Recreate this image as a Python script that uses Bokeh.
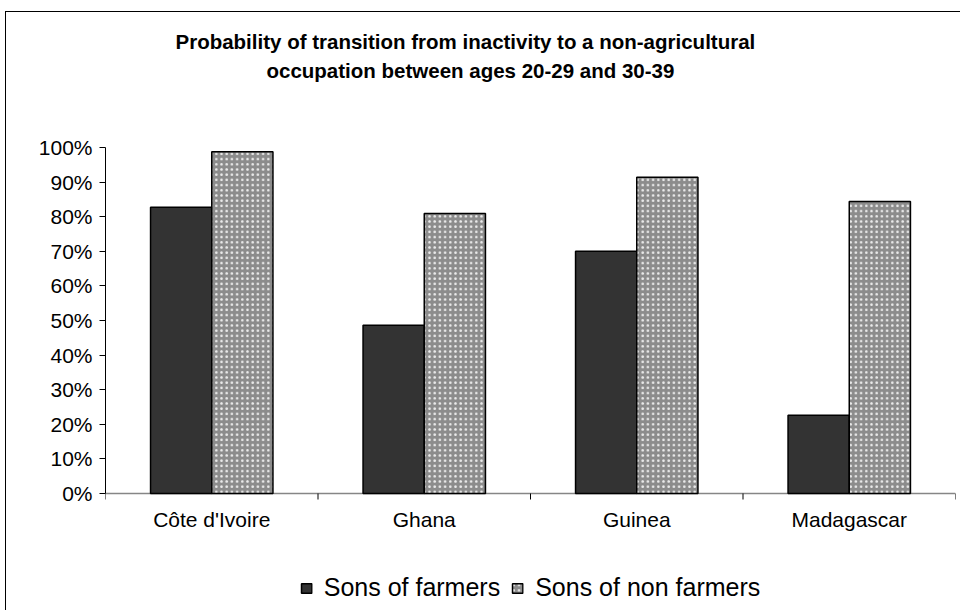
from bokeh.plotting import figure
from bokeh.models import (ColumnDataSource, FixedTicker, NumeralTickFormatter, Legend,
                          LegendItem, Title, Range1d)
from bokeh.core.properties import value
from bokeh.transform import dodge
from bokeh.embed import file_html
from bokeh.resources import INLINE

# ---- data ----
categories = ["Côte d'Ivoire", "Ghana", "Guinea", "Madagascar"]
sons_of_farmers = [0.827, 0.486, 0.700, 0.226]
sons_of_non_farmers = [0.988, 0.809, 0.914, 0.844]
y_ticks = [0.0, 0.1, 0.2, 0.3, 0.4, 0.5, 0.6, 0.7, 0.8, 0.9, 1.0]
title_lines = ["Probability of transition from inactivity to a non-agricultural",
               "occupation between ages 20-29 and 30-39"]
series_names = ["Sons of farmers", "Sons of non farmers"]

n = len(categories)
centers = [i + 0.5 for i in range(n)]
bounds = [float(i) for i in range(n + 1)]
source = ColumnDataSource(dict(x=centers, cat=categories,
                               farm=sons_of_farmers, nonfarm=sons_of_non_farmers))

FONT = "Liberation Sans"
W, H = 960, 610
PLOT_H = 346          # pixel height of 0..100 %
EXTRA = 112           # pixels below 0 % kept inside the frame for labels and legend
px = 1.0 / PLOT_H     # one pixel in data units
p = figure(width=W, height=H, output_backend="svg", toolbar_location=None,
           x_range=Range1d(0, n), y_range=Range1d(-EXTRA * px, 1.0),
           frame_width=850, frame_height=PLOT_H + EXTRA,
           min_border_left=105, min_border_right=5, min_border_top=147, min_border_bottom=5)
p.background_fill_color = "white"
p.border_fill_color = None
p.outline_line_color = None
p.xgrid.visible = False
p.ygrid.visible = False
p.xaxis.visible = False
p.styles = {
    "background-color": "white",
    "background-image": "linear-gradient(#000, #000), linear-gradient(#000, #000)",
    "background-size": "1px 700px, 1000px 1px",
    "background-position": "5px 11px, 5px 11px",
    "background-repeat": "no-repeat",
}

# category axis drawn at 0 %
p.segment(x0=0, y0=0, x1=n, y1=0, line_color="#868686", line_width=1.5)
p.segment(x0=bounds, y0=[0.0] * len(bounds), x1=bounds, y1=[-6 * px] * len(bounds),
          line_color="black", line_width=1)
p.text(x="x", y=0, text="cat", source=source, text_align="center", text_baseline="top",
       y_offset=14, text_font=value(FONT), text_font_size="21px", text_color="black")

bw = 0.288
r1 = p.vbar(x=dodge("x", -bw / 2, range=p.x_range), top="farm", width=bw, source=source,
            fill_color="#333333", line_color="black", line_width=1.5)
r2 = p.vbar(x=dodge("x", bw / 2, range=p.x_range), top="nonfarm", width=bw, source=source,
            fill_color="#8c8c8c", line_color="black", line_width=1.5,
            hatch_pattern="dot", hatch_color="#ececec", hatch_scale=5.2, hatch_weight=1.8)

# y axis
ya = p.yaxis[0]
ya.bounds = (0, 1)
ya.ticker = FixedTicker(ticks=y_ticks)
ya.formatter = NumeralTickFormatter(format="0%")
ya.major_tick_in = 0
ya.major_tick_out = 6
ya.minor_tick_out = 0
ya.minor_tick_in = 0
ya.axis_line_color = "black"
ya.major_tick_line_color = "black"
ya.major_label_standoff = 7
ya.major_label_text_font = FONT
ya.major_label_text_font_size = "21px"
ya.major_label_text_color = "black"

# title: spacer nearest the frame, then line 2, then line 1
p.add_layout(Title(text=" ", text_font_size="1px", standoff=60), "above")
p.add_layout(Title(text=title_lines[1], align="left", offset=161, standoff=6,
                   text_font=FONT, text_font_size="20.5px", text_font_style="bold",
                   text_color="black"), "above")
p.add_layout(Title(text=title_lines[0], align="left", offset=70, standoff=2,
                   text_font=FONT, text_font_size="20.5px", text_font_style="bold",
                   text_color="black"), "above")

legend = Legend(items=[LegendItem(label=series_names[0], renderers=[r1]),
                       LegendItem(label=series_names[1], renderers=[r2])],
                orientation="horizontal", location="bottom_center",
                glyph_width=13, glyph_height=12, label_standoff=11, spacing=11,
                padding=0, margin=3, border_line_color=None, background_fill_alpha=0,
                label_text_font=FONT, label_text_font_size="25px", label_text_color="black")
p.add_layout(legend, "center")

open("out.html", "w").write(file_html(p, INLINE))
